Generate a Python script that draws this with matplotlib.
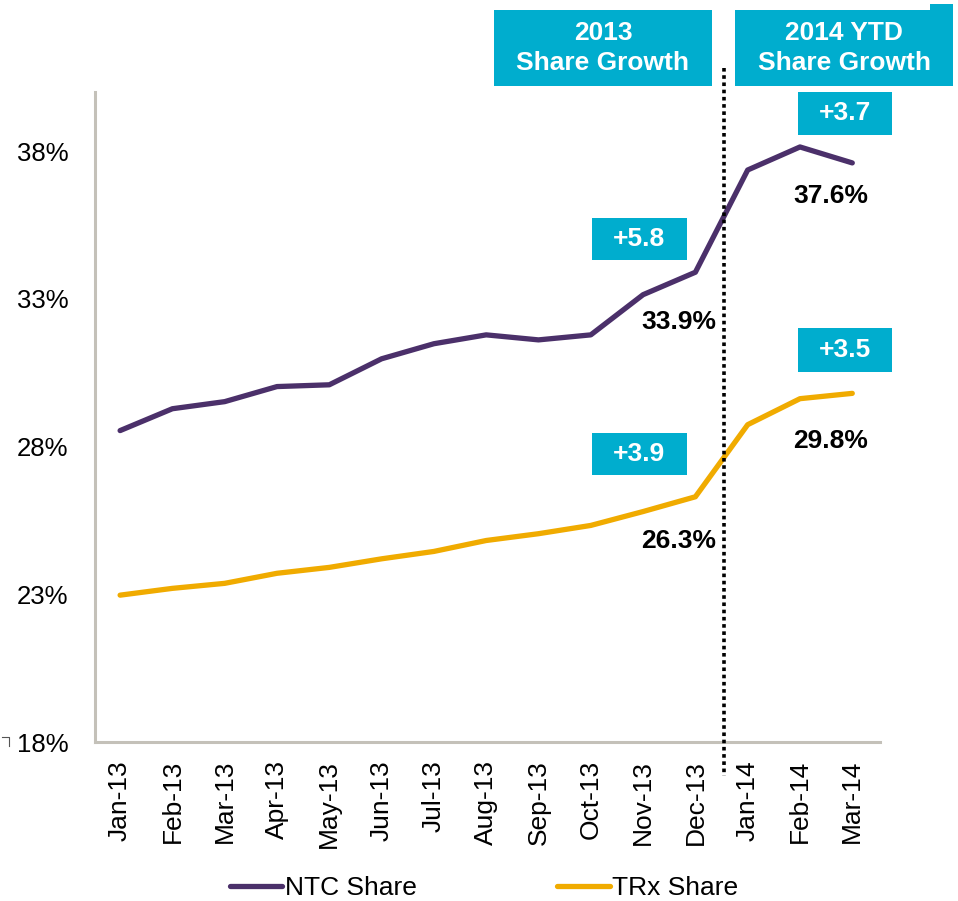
import matplotlib
matplotlib.use("Agg")
import matplotlib.pyplot as plt
from matplotlib.patches import Rectangle
from matplotlib.lines import Line2D

plt.rcParams["font.family"] = ["Liberation Sans", "DejaVu Sans"]

months = ["Jan-13", "Feb-13", "Mar-13", "Apr-13", "May-13", "Jun-13", "Jul-13",
          "Aug-13", "Sep-13", "Oct-13", "Nov-13", "Dec-13", "Jan-14", "Feb-14", "Mar-14"]
ntc_share = [28.54, 29.28, 29.52, 30.03, 30.09, 30.97, 31.48,
             31.78, 31.61, 31.78, 33.14, 33.9, 37.36, 38.14, 37.6]
trx_share = [22.97, 23.2, 23.37, 23.71, 23.91, 24.2, 24.45,
             24.82, 25.05, 25.33, 25.8, 26.3, 28.74, 29.62, 29.8]
y_ticks = [18, 23, 28, 33, 38]

PURPLE = "#4b306a"
GOLD = "#f0ab00"
CYAN = "#00adce"
GREY = "#c4c1b9"

W, H = 958, 901
fig = plt.figure(figsize=(W / 100, H / 100), dpi=100)


def fx(x):
    return x / W


def fy(y):
    return 1 - y / H


ax = fig.add_axes([fx(95), fy(742), fx(880) - fx(95), fy(92) - fy(742)])
x = list(range(len(months)))
ax.plot(x, ntc_share, color=PURPLE, lw=3.8, solid_capstyle="round", label="NTC Share")
ax.plot(x, trx_share, color=GOLD, lw=3.8, solid_capstyle="round", label="TRx Share")

ax.set_xlim(-0.48, 14.53)
ax.set_ylim(18, 40)
ax.set_yticks(y_ticks)
ax.set_yticklabels([f"{t}%" for t in y_ticks], fontsize=18.5)
ax.set_xticks(x)
ax.set_xticklabels(months, rotation=90, fontsize=19)
ax.tick_params(axis="y", length=0, pad=19)
ax.tick_params(axis="x", length=0, pad=13)
for s in ["top", "right"]:
    ax.spines[s].set_visible(False)
for s in ["left", "bottom"]:
    ax.spines[s].set_color(GREY)
    ax.spines[s].set_linewidth(2.2)

# dotted divider between 2013 and 2014
fig.add_artist(Line2D([fx(724), fx(724)], [fy(68), fy(776)], color="black",
                      lw=2.6, linestyle=(0, (1, 1))))

# small corner mark next to 18%
fig.add_artist(Line2D([fx(2), fx(9), fx(9)], [fy(737), fy(737), fy(746)],
                      color="#555555", lw=0.8))


def box(x0, y0, x1, y1, text, size=19):
    fig.add_artist(Rectangle((fx(x0), fy(y1)), fx(x1) - fx(x0), fy(y0) - fy(y1),
                             facecolor=CYAN, edgecolor="none"))
    fig.text(fx((x0 + x1) / 2), fy((y0 + y1) / 2), text, ha="center", va="center",
             color="white", fontsize=size, fontweight="bold", linespacing=1.3)


box(494, 10, 712, 86, "2013\nShare Growth")
box(735, 10, 953, 86, "2014 YTD\nShare Growth")
fig.add_artist(Rectangle((fx(930), fy(10)), fx(953) - fx(930), fy(4) - fy(10),
                         facecolor=CYAN, edgecolor="none"))
box(592, 218, 687, 260, "+5.8")
box(592, 433, 687, 475, "+3.9")
box(798, 92, 892, 135, "+3.7")
box(798, 328, 892, 372, "+3.5")

for xc, yc, t in [(679, 322, "33.9%"), (679, 541, "26.3%"),
                  (831, 196, "37.6%"), (831, 441, "29.8%")]:
    fig.text(fx(xc), fy(yc), t, ha="center", va="center", color="black",
             fontsize=19, fontweight="bold")

fig.legend(loc="center", bbox_to_anchor=(fx(484), fy(888)), ncol=2, frameon=False,
           fontsize=19, handlelength=2.0, handletextpad=0.1, columnspacing=5.3)

fig.savefig("out.png", dpi=100)
